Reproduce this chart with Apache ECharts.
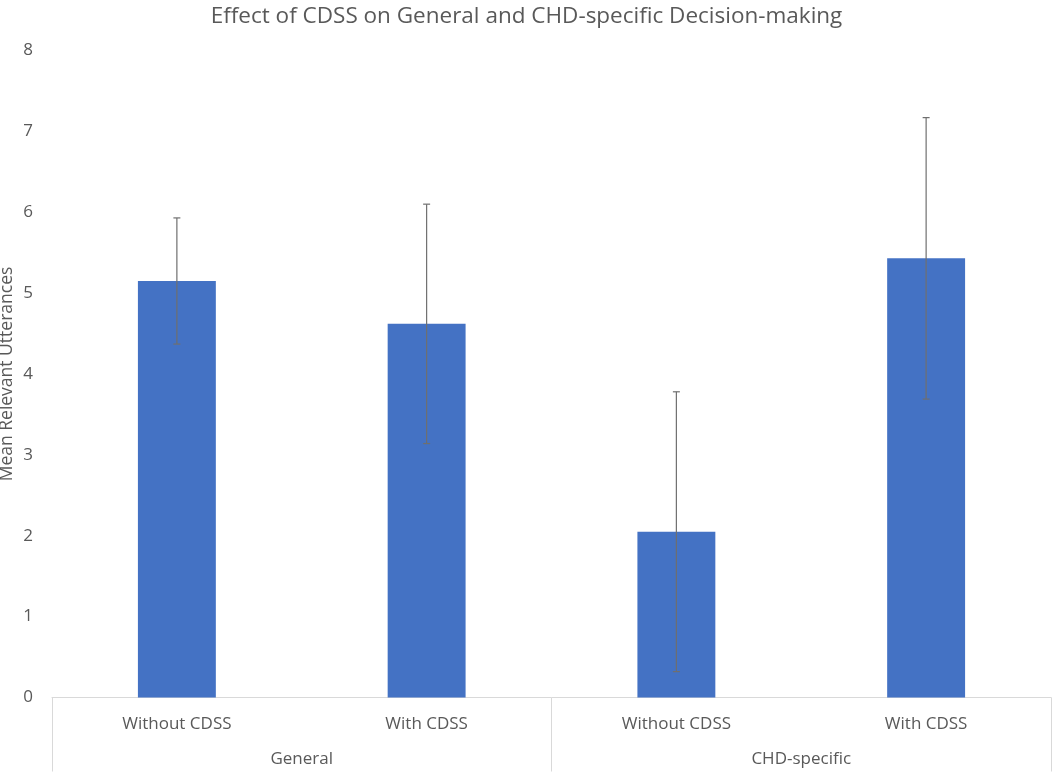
<!DOCTYPE html>
<html>
<head>
<meta charset="utf-8">
<script src="https://cdn.jsdelivr.net/npm/echarts@6/dist/echarts.min.js"></script>
<style>
html,body{margin:0;padding:0;background:#fff;}
#chart{width:1053px;height:774px;}
</style>
</head>
<body>
<div id="chart"></div>
<script>
var categories = ['Without CDSS', 'With CDSS', 'Without CDSS', 'With CDSS'];
var groups = ['General', 'CHD-specific'];
var means = [5.15, 4.62, 2.05, 5.43];
var errors = [0.78, 1.48, 1.73, 1.74];
var yTicks = [0, 1, 2, 3, 4, 5, 6, 7, 8];

var chart = echarts.init(document.getElementById('chart'));
var textColor = '#595959';
var font = 'Open Sans';

var errData = means.map(function (m, i) { return [i, m - errors[i], m + errors[i]]; });

chart.setOption({
  backgroundColor: '#fff',
  animation: false,
  title: {
    text: 'Effect of CDSS on General and CHD-specific Decision-making',
    left: 'center',
    top: 0,
    textStyle: { color: textColor, fontSize: 22.5, fontWeight: 'normal', fontFamily: font }
  },
  grid: { left: 52, right: 2, top: 50.5, bottom: 76.5, containLabel: false, outerBoundsMode: 'none' },
  xAxis: [
    {
      type: 'category',
      data: categories,
      axisLine: { show: true, lineStyle: { color: '#d9d9d9', width: 1 } },
      axisTick: { show: false },
      axisLabel: { color: textColor, fontSize: 17, fontFamily: font, margin: 18 }
    },
    {
      type: 'category',
      data: groups,
      position: 'bottom',
      axisLine: { show: false },
      axisTick: { show: true, length: 74, lineStyle: { color: '#d9d9d9', width: 1 } },
      axisLabel: { color: textColor, fontSize: 17, fontFamily: font, margin: 53 }
    }
  ],
  yAxis: {
    type: 'value',
    min: yTicks[0],
    max: yTicks[yTicks.length - 1],
    interval: 1,
    name: 'Mean Relevant Utterances',
    nameLocation: 'middle',
    nameGap: 36,
    nameMoveOverlap: false,
    nameTextStyle: { color: textColor, fontSize: 17.5, fontFamily: font },
    axisLine: { show: false },
    axisTick: { show: false },
    splitLine: { show: false },
    axisLabel: { color: textColor, fontSize: 17, fontFamily: font, margin: 19 }
  },
  series: [
    {
      type: 'bar',
      data: means,
      xAxisIndex: 0,
      barWidth: '31.2%',
      itemStyle: { color: '#4472C4' }
    },
    {
      type: 'custom',
      xAxisIndex: 0,
      data: errData,
      z: 10,
      renderItem: function (params, api) {
        var x = api.value(0);
        var lo = api.coord([x, api.value(1)]);
        var hi = api.coord([x, api.value(2)]);
        var cap = 3.5;
        var style = { stroke: '#6f6f6f', lineWidth: 1.2 };
        return {
          type: 'group',
          children: [
            { type: 'line', shape: { x1: hi[0], y1: hi[1], x2: lo[0], y2: lo[1] }, style: style },
            { type: 'line', shape: { x1: hi[0] - cap, y1: hi[1], x2: hi[0] + cap, y2: hi[1] }, style: style },
            { type: 'line', shape: { x1: lo[0] - cap, y1: lo[1], x2: lo[0] + cap, y2: lo[1] }, style: style }
          ]
        };
      }
    }
  ]
});
</script>
</body>
</html>
